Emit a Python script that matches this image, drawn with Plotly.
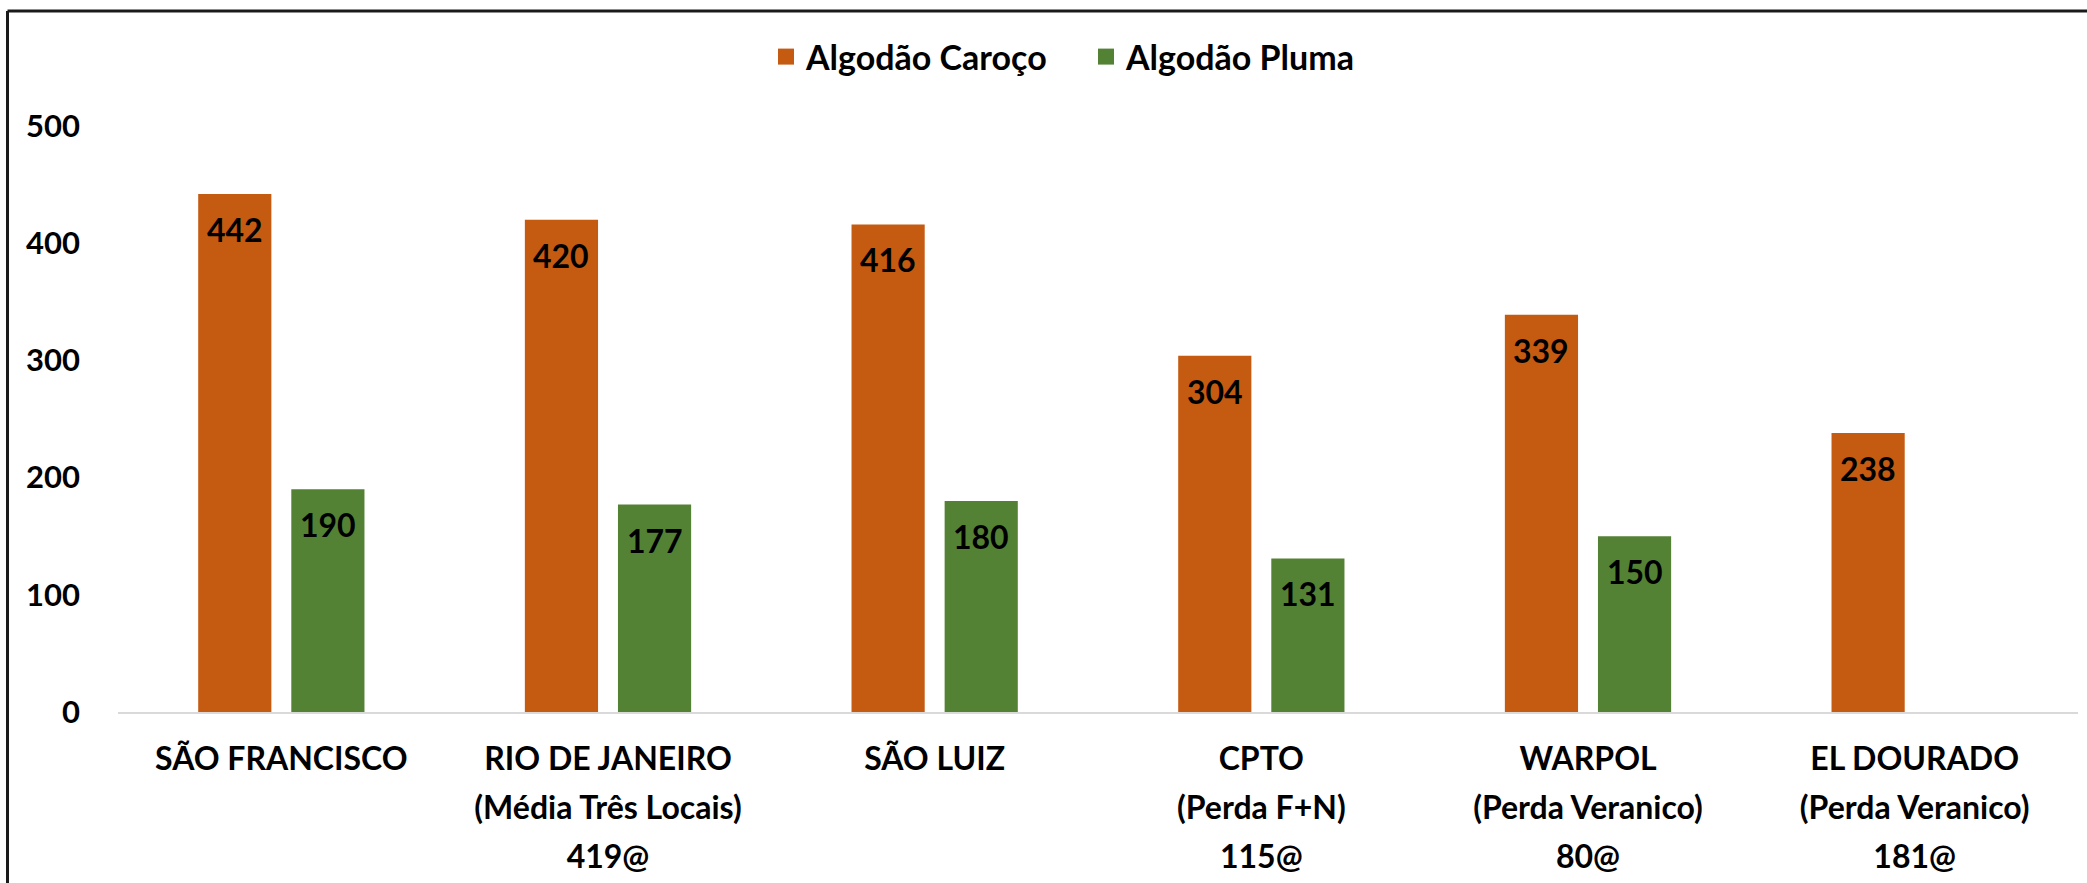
import plotly.graph_objects as go

categories = [
    "SÃO FRANCISCO",
    "RIO DE JANEIRO<br>(Média Três Locais)<br>419@",
    "SÃO LUIZ",
    "CPTO<br>(Perda F+N)<br>115@",
    "WARPOL<br>(Perda Veranico)<br>80@",
    "EL DOURADO<br>(Perda Veranico)<br>181@",
]
caroco = [442, 420, 416, 304, 339, 238]
pluma = [190, 177, 180, 131, 150, None]
series_names = ["Algodão Caroço", "Algodão Pluma"]
colors = ["#C55A11", "#548235"]
y_ticks = [0, 100, 200, 300, 400, 500]

FONT = "Lato"
FS = 31
XFS = 32      # x tick label text size
XLINE = 38    # size controlling x tick label line spacing
LFS = 34      # legend font size
DFS = 32      # data label size

W, H = 2087, 883
L, R, T, B = 118, 9, 126, 171
pw, ph = W - L - R, H - T - B
BARGAP, BARGROUPGAP = 0.43, 0.214

def px_x(px):
    return (px - L) / pw

def px_y(py):
    return (H - B - py) / ph

def wrap(label):
    return "<br>".join(f"<span style='font-size:{XFS}px'>{p}</span>"
                       for p in label.split("<br>"))

tick_text = [wrap(c) for c in categories]

fig = go.Figure()
all_series = [caroco, pluma]
for name, vals, col in zip(series_names, all_series, colors):
    fig.add_trace(go.Bar(
        x=categories, y=vals, name=name, marker_color=col,
        marker_line_width=0, showlegend=False,
    ))
    fig.add_trace(go.Scatter(
        x=[None], y=[None], mode="markers", name=name,
        marker=dict(symbol="square", size=16, color=col),
        showlegend=True,
    ))

# data labels inside the bar tops
cat_px = pw / len(categories)
slot_px = (1 - BARGAP) * cat_px / len(all_series)
annotations = []
for si, vals in enumerate(all_series):
    shift = (si - (len(all_series) - 1) / 2) * slot_px
    for c, v in zip(categories, vals):
        if v is None:
            continue
        annotations.append(dict(
            x=c, y=v, xref="x", yref="y", text=str(v), showarrow=False,
            xshift=shift, yshift=-14, yanchor="top", xanchor="center",
            font=dict(family=FONT, size=DFS, color="black", weight="bold"),
        ))

fig.update_layout(
    width=W, height=H,
    margin=dict(l=L, r=R, t=T, b=B, autoexpand=False),
    paper_bgcolor="white", plot_bgcolor="white",
    barmode="group", bargap=BARGAP, bargroupgap=BARGROUPGAP,
    font=dict(family=FONT, size=FS, color="black", weight="bold"),
    legend=dict(
        orientation="h", x=px_x(1086), xanchor="center",
        y=px_y(57), yanchor="middle",
        font=dict(family=FONT, size=LFS, color="black", weight="bold"),
        itemwidth=30, entrywidth=275, entrywidthmode="pixels",
    ),
    xaxis=dict(
        showline=True, linecolor="#D9D9D9", linewidth=2,
        showgrid=False, zeroline=False, ticks="",
        tickmode="array", tickvals=categories, ticktext=tick_text,
        ticklabelstandoff=10,
        tickfont=dict(family=FONT, size=XLINE, color="black", weight="bold"),
    ),
    yaxis=dict(
        range=[0, 500], tickvals=y_ticks, showgrid=False, zeroline=False,
        showline=False, ticks="", ticklabelstandoff=37,
        tickfont=dict(family=FONT, size=FS, color="black", weight="bold"),
    ),
    annotations=annotations,
    shapes=[
        dict(type="line", xref="paper", yref="paper",
             x0=px_x(7.5), x1=px_x(W + 5), y0=px_y(11), y1=px_y(11),
             line=dict(color="#1a1a1a", width=3)),
        dict(type="line", xref="paper", yref="paper",
             x0=px_x(7.5), x1=px_x(7.5), y0=px_y(11), y1=px_y(H + 5),
             line=dict(color="#1a1a1a", width=3)),
    ],
)

fig.write_html(
    "out.html",
    config={"displayModeBar": False},
    post_script="document.body.style.margin='0';document.body.style.overflow='hidden';",
)
